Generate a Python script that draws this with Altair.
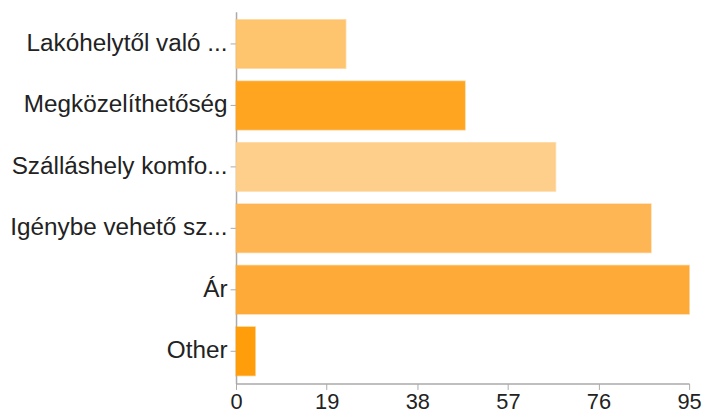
import altair as alt
import pandas as pd

categories = ["Lakóhelytől való ...", "Megközelíthetőség", "Szálláshely komfo...",
              "Igénybe vehető sz...", "Ár", "Other"]
values = [23, 48, 67, 87, 95, 4]
colors = ["#FEC46E", "#FFA520", "#FECF8B", "#FEB654", "#FEAA38", "#FF9D0A"]
x_ticks = [0, 19, 38, 57, 76, 95]

df = pd.DataFrame({"category": categories, "value": values, "color": colors})

chart = alt.Chart(df).mark_bar(strokeWidth=1.5, strokeOpacity=0.5).encode(
    y=alt.Y("category:N", sort=categories,
            scale=alt.Scale(paddingInner=0.21, paddingOuter=0.13),
            axis=alt.Axis(title=None, labelFontSize=24.5, labelFont="Liberation Sans",
                          labelColor="#222222", labelLimit=0, tickSize=6,
                          labelPadding=3, domainColor="#aaaaaa", tickColor="#aaaaaa",
                          domainWidth=1.5)),
    x=alt.X("value:Q", scale=alt.Scale(domain=[0, 95], nice=False),
            axis=alt.Axis(title=None, values=x_ticks, grid=False, labelFontSize=22,
                          labelFont="Liberation Sans", labelColor="#222222",
                          tickSize=6, labelPadding=2, domainColor="#aaaaaa",
                          tickColor="#aaaaaa", domainWidth=1.5, labelFlush=False)),
    color=alt.Color("color:N", scale=None),
    stroke=alt.Color("color:N", scale=None),
).properties(
    width=457, height=375,
    autosize=alt.AutoSizeParams(type="none"),
    padding={"left": 230, "top": 2, "right": 14, "bottom": 30},
).configure_view(stroke=None)

chart.save("out.html", embed_options={"renderer": "svg", "actions": False})
